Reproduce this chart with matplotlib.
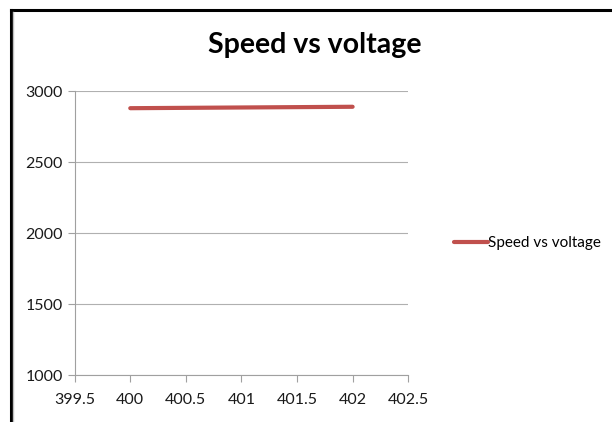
import matplotlib.pyplot as plt
from matplotlib.lines import Line2D

# speed readings at each supply voltage
voltage = [400, 401, 402]
speed = [2880, 2885, 2890]
x_ticks = [399.5, 400, 400.5, 401, 401.5, 402, 402.5]
y_ticks = [1000, 1500, 2000, 2500, 3000]
series_name = 'Speed vs voltage'

plt.rcParams['font.family'] = ['Lato', 'DejaVu Sans']

fig = plt.figure(figsize=(6.12, 4.22), dpi=100)
ax = fig.add_axes([0.122, 0.111, 0.545, 0.673])

ax.plot(voltage, speed, color='#C0504D', lw=3, solid_capstyle='round',
        label=series_name)

ax.set_xlim(399.5, 402.5)
ax.set_ylim(1000, 3000)
ax.set_xticks(x_ticks)
ax.set_xticklabels([f'{v:g}' for v in x_ticks])
ax.set_yticks(y_ticks)
ax.grid(axis='y', color='#b0b0b0', lw=0.8)
ax.set_axisbelow(True)
for s in ['top', 'right']:
    ax.spines[s].set_visible(False)
for s in ['left', 'bottom']:
    ax.spines[s].set_color('#a0a0a0')
    ax.spines[s].set_linewidth(0.8)
ax.tick_params(axis='both', colors='#a0a0a0', length=5, width=0.8,
               labelsize=11.5, labelcolor='#1a1a1a')
ax.tick_params(axis='x', pad=8)

fig.text(0.515, 0.893, series_name, ha='center', va='center',
         fontsize=20.5, fontweight='bold')

fig.legend(loc='center left', bbox_to_anchor=(0.72, 0.424), frameon=False,
           fontsize=11, handlelength=2.2, handletextpad=0.0)

# black frame along the top and left edges
fig.add_artist(Line2D([0.0175, 1.0], [0.976, 0.976], color='black', lw=2.2,
                      transform=fig.transFigure))
fig.add_artist(Line2D([0.0185, 0.0185], [0.0, 0.976], color='black', lw=2.2,
                      transform=fig.transFigure))
fig.add_artist(Line2D([0.022, 0.022], [0.0, 0.972], color='#c0c0c0', lw=1.0,
                      transform=fig.transFigure))

fig.savefig('out.png', dpi=100)
